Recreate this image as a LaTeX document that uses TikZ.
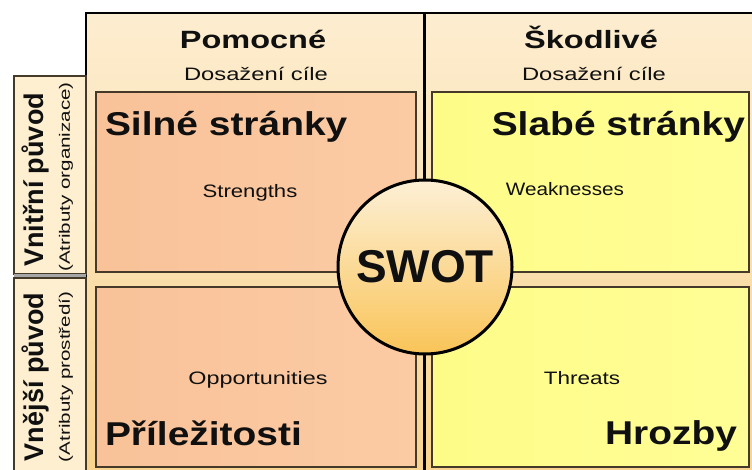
\documentclass[tikz,border=0pt]{standalone}
\usepackage{graphicx}
\usepackage{fontspec}
\setmainfont{Liberation Sans}
\usetikzlibrary{shadings}

% text set at a given size and horizontal stretch
\newcommand{\wtxt}[3]{\scalebox{#2}[1]{\fontsize{#1}{#1}\selectfont #3}}

\definecolor{panelTop}{HTML}{FDEDD0}
\definecolor{panelBot}{HTML}{F8D38E}
\definecolor{sideFill}{HTML}{FDEFCF}
\definecolor{salmonA}{HTML}{F9C299}
\definecolor{salmonB}{HTML}{FBCBA4}
\definecolor{yellowA}{HTML}{FEFC88}
\definecolor{yellowB}{HTML}{FFFE96}
\definecolor{quadLine}{HTML}{45392A}
\definecolor{circTop}{HTML}{FDF0D6}
\definecolor{circBot}{HTML}{F9C458}
\definecolor{inkText}{HTML}{101010}

\begin{document}
\begin{tikzpicture}[x=1pt,y=-1pt,
  every node/.style={inner sep=0pt, outer sep=0pt, text=inkText},
  quadbox/.style={draw=quadLine, line width=1.4pt, rectangle, anchor=north west,
                  minimum width=320pt, minimum height=180pt},
  helpbox/.style={quadbox, left color=salmonA, right color=salmonB},
  harmbox/.style={quadbox, left color=yellowA, right color=yellowB},
  sidebox/.style={draw=quadLine, line width=1.2pt, fill=sideFill, rectangle,
                  anchor=north west, minimum width=72pt},
]
\useasboundingbox (0,0) rectangle (752,470);
\clip (0,0) rectangle (752,470);
\fill[white] (0,0) rectangle (752,470);

% main panel behind the four quadrants
\shade[top color=panelTop, bottom color=panelBot] (86,13) rectangle (760,480);
\draw[line width=1.5pt, black] (86,480) -- (86,13) -- (760,13);
\draw[line width=3pt, black] (424,13) -- (424,480);

% side label boxes
\node[sidebox, minimum height=198pt] (inner) at (14,76) {};
\node[sidebox, minimum height=200pt] (outer) at (14,278) {};
\fill[gray!70] (14,274.5) rectangle (86,277.5);

% quadrants
\node[helpbox] (qS) at (96,92) {};
\node[harmbox, minimum width=317pt] (qW) at (432,92) {};
\node[helpbox] (qO) at (96,287) {};
\node[harmbox, minimum width=317pt] (qT) at (432,287) {};

% column headings
\node[anchor=base] (hHelp) at (253,49) {\wtxt{25}{1.3}{\bfseries Pomocné}};
\node[anchor=base] (hHelpSub) at (256,81) {\wtxt{18}{1.32}{Dosažení cíle}};
\node[anchor=base] (hHarm) at (591,49) {\wtxt{25}{1.3}{\bfseries Škodlivé}};
\node[anchor=base] (hHarmSub) at (594,81) {\wtxt{18}{1.32}{Dosažení cíle}};

% row headings
\node[rotate=90] (rIn) at (35,180) {\wtxt{27}{1.0}{\bfseries Vnitřní původ}};
\node[rotate=90] (rInSub) at (66,177) {\wtxt{15}{1.37}{(Atributy organizace)}};
\node[rotate=90] (rOut) at (35,377) {\wtxt{27}{1.0}{\bfseries Vnější původ}};
\node[rotate=90] (rOutSub) at (66,377) {\wtxt{15}{1.37}{(Atributy prostředí)}};

% quadrant titles
\node[anchor=base west] (tS) at (105,136) {\wtxt{33}{1.18}{\bfseries Silné stránky}};
\node[anchor=base] (eS) at (250,198) {\wtxt{18}{1.23}{Strengths}};
\node[anchor=base east] (tW) at (745,136) {\wtxt{33}{1.18}{\bfseries Slabé stránky}};
\node[anchor=base] (eW) at (565,196) {\wtxt{18}{1.15}{Weaknesses}};
\node[anchor=base] (eO) at (258,384) {\wtxt{18}{1.3}{Opportunities}};
\node[anchor=base west] (tO) at (105,445) {\wtxt{33}{1.18}{\bfseries Příležitosti}};
\node[anchor=base] (eT) at (582,384) {\wtxt{18}{1.25}{Threats}};
\node[anchor=base east] (tT) at (737,444) {\wtxt{33}{1.18}{\bfseries Hrozby}};

% central disc
\node[circle, draw=black, line width=3pt, minimum size=174pt,
      top color=circTop, bottom color=circBot] (swot) at (425,267) {};
\node (swotText) at (swot.center) {\wtxt{46}{1.0}{\bfseries SWOT}};
\end{tikzpicture}
\end{document}
